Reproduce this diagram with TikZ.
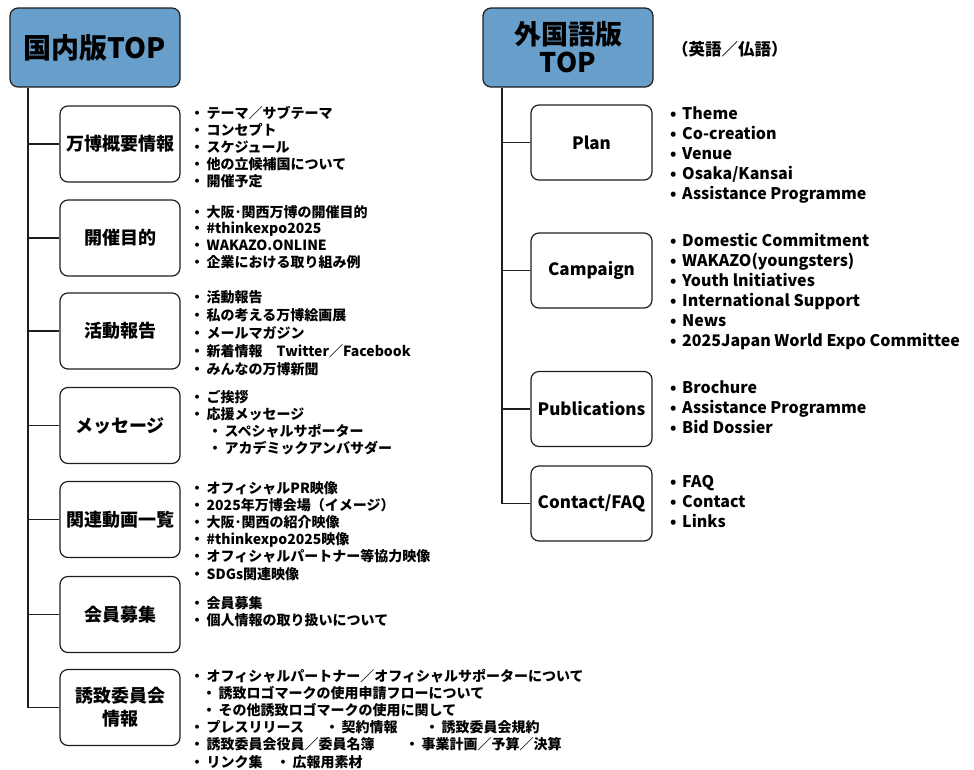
\documentclass[tikz,border=0pt]{standalone}
\usepackage{fontspec}
\setmainfont{Noto Sans CJK JP}
\definecolor{topblue}{RGB}{104,158,202}
\definecolor{edge}{RGB}{30,30,30}
\newcommand\bul{\makebox[19pt][c]{・}}
\newcommand\wbul{\makebox[18pt][c]{•}}
\newcommand\mklist[6]{\foreach \t [count=\i] in {#6} {\node[#2] (#1\i) at (#3, {#4+(\i-1)*#5}) {\t};}}
\begin{document}
\begin{tikzpicture}[x=1pt,y=-1pt,
  topbox/.style={draw=edge, fill=topblue, line width=1.2pt, rounded corners=8pt, minimum width=170pt, minimum height=79pt, align=center, inner sep=0pt},
  subbox/.style={draw=edge, fill=white, line width=1.2pt, rounded corners=8pt, minimum width=120pt, minimum height=76pt, align=center, inner sep=0pt, font=\fontsize{18}{23}\selectfont\bfseries},
  rbox/.style={subbox, minimum width=121pt, minimum height=75pt, font=\fontsize{17}{22}\selectfont\bfseries},
  conn/.style={line width=1.2pt, draw=edge},
  litem/.style={anchor=base west, inner sep=0pt, font=\fontsize{14}{17}\selectfont\bfseries},
  ritem/.style={anchor=base west, inner sep=0pt, font=\fontsize{16}{20}\selectfont\bfseries}]
\useasboundingbox (0,0) rectangle (974,769);

% ---------- left column ----------
\node[topbox, font=\fontsize{28}{28}\selectfont\bfseries] (topL) at (95,47.5) {国内版TOP};
\node[subbox] (b1) at (120,144) {万博概要情報};
\node[subbox] (b2) at (120,238) {開催目的};
\node[subbox] (b3) at (120,331) {活動報告};
\node[subbox] (b4) at (120,425.5) {メッセージ};
\node[subbox] (b5) at (120,519.5) {関連動画一覧};
\node[subbox] (b6) at (120,614.5) {会員募集};
\node[subbox] (b7) at (120,707.5) {誘致委員会\\情報};

\coordinate (tl) at (28,0);
\draw[conn] (topL.south -| tl) |- (b7.west);
\foreach \n in {b1,b2,b3,b4,b5,b6} \draw[conn] (\n.west -| tl) -- (\n.west);

\mklist{la}{litem}{187.5}{118}{17.2}{\bul テーマ／サブテーマ, \bul コンセプト, \bul スケジュール, \bul 他の立候補国について, \bul 開催予定}
\mklist{lb}{litem}{187.5}{217}{16.8}{\bul 大阪･関西万博の開催目的, \bul \#thinkexpo2025, \bul WAKAZO.ONLINE, \bul 企業における取り組み例}
\mklist{lc}{litem}{187.5}{302}{18}{\bul 活動報告, \bul 私の考える万博絵画展, \bul メールマガジン, \bul 新着情報　Twitter／Facebook, \bul みんなの万博新聞}
\mklist{ld}{litem}{187.5}{402}{17.3}{\bul ご挨拶, \bul 応援メッセージ, {\hspace*{18pt}\bul スペシャルサポーター}, {\hspace*{18pt}\bul アカデミックアンバサダー}}
\mklist{le}{litem}{187.5}{493}{17.2}{\bul オフィシャルPR映像, \bul 2025年万博会場（イメージ）, \bul 大阪･関西の紹介映像, \bul \#thinkexpo2025映像, \bul オフィシャルパートナー等協力映像, \bul SDGs関連映像}
\mklist{lf}{litem}{187.5}{608}{17}{\bul 会員募集, \bul 個人情報の取り扱いについて}
\mklist{lg}{litem}{187.5}{681}{17.2}{\bul オフィシャルパートナー／オフィシャルサポーターについて, {\hspace*{12pt}\bul 誘致ロゴマークの使用申請フローについて}, {\hspace*{12pt}\bul その他誘致ロゴマークの使用に関して}, {\makebox[135pt][l]{\bul プレスリリース}\makebox[100pt][l]{\bul 契約情報}\bul 誘致委員会規約}, {\makebox[215pt][l]{\bul 誘致委員会役員／委員名簿}\bul 事業計画／予算／決算}, {\makebox[86pt][l]{\bul リンク集}\bul 広報用素材}}

% ---------- right column ----------
\node[topbox, font=\fontsize{27}{28}\selectfont\bfseries] (topR) at (568,47.5) {外国語版\\TOP};
\node[anchor=west, inner sep=0pt, font=\fontsize{16.5}{16.5}\selectfont\bfseries] (lang) at (672,49) {（英語／仏語）};
\node[rbox] (r1) at (591.5,142.5) {Plan};
\node[rbox] (r2) at (591.5,270.5) {Campaign};
\node[rbox] (r3) at (591.5,409) {Publications};
\node[rbox] (r4) at (591.5,503.5) {Contact/FAQ};

\coordinate (tr) at (502,0);
\draw[conn] (topR.south -| tr) |- (r4.west);
\foreach \n in {r1,r2,r3} \draw[conn] (\n.west -| tr) -- (\n.west);

\mklist{ra}{ritem}{664}{119}{20}{\wbul Theme, \wbul Co-creation, \wbul Venue, \wbul Osaka/Kansai, \wbul Assistance Programme}
\mklist{rb}{ritem}{664}{246}{20}{\wbul Domestic Commitment, \wbul WAKAZO(youngsters), \wbul Youth lnitiatives, \wbul International Support, \wbul News, \wbul 2025Japan World Expo Committee}
\mklist{rc}{ritem}{664}{393}{20}{\wbul Brochure, \wbul Assistance Programme, \wbul Bid Dossier}
\mklist{rd}{ritem}{664}{487}{20}{\wbul FAQ, \wbul Contact, \wbul Links}
\end{tikzpicture}
\end{document}
